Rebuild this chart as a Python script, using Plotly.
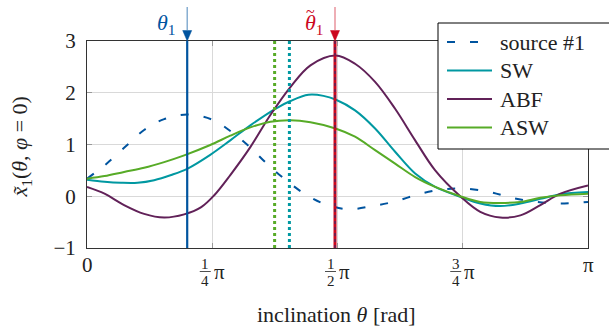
import numpy as np
import plotly.graph_objects as go

PI = np.pi

# ---------------- data (theta given in units of pi) ----------------
src_t = [0.0, 0.038, 0.078, 0.114, 0.154, 0.2, 0.25, 0.289, 0.325, 0.359, 0.396,
         0.434, 0.476, 0.522, 0.569, 0.615, 0.662, 0.709, 0.752, 0.805, 0.848,
         0.898, 0.945, 1.0]
src_v = [0.34, 0.62, 0.97, 1.28, 1.49, 1.58, 1.48, 1.24, 0.95, 0.63, 0.32,
         0.05, -0.155, -0.25, -0.19, -0.10, 0.04, 0.13, 0.15, 0.08, -0.03,
         -0.11, -0.14, -0.11]

sw_t = [0.0, 0.035, 0.068, 0.101, 0.134, 0.168, 0.2, 0.246, 0.286, 0.326,
        0.376, 0.406, 0.442, 0.472, 0.496, 0.535, 0.575, 0.615, 0.655, 0.695,
        0.745, 0.785, 0.825, 0.865, 0.905, 0.945, 1.0]
sw_v = [0.32, 0.28, 0.26, 0.26, 0.31, 0.41, 0.53, 0.80, 1.08, 1.37,
        1.69, 1.84, 1.96, 1.94, 1.87, 1.66, 1.31, 0.86, 0.44, 0.18,
        -0.01, -0.14, -0.19, -0.14, -0.05, 0.04, 0.08]

abf_t = [0.0, 0.035, 0.074, 0.114, 0.154, 0.194, 0.228, 0.254, 0.286, 0.326,
         0.366, 0.406, 0.446, 0.496, 0.535, 0.575, 0.615, 0.655, 0.695, 0.745,
         0.785, 0.825, 0.865, 0.905, 0.945, 1.0]
abf_v = [0.18, 0.05, -0.17, -0.34, -0.41, -0.35, -0.21, 0.02, 0.41, 0.95,
         1.57, 2.11, 2.53, 2.72, 2.56, 2.21, 1.69, 1.08, 0.50, 0.0,
         -0.30, -0.41, -0.37, -0.17, 0.05, 0.21]

asw_t = [0.0, 0.035, 0.074, 0.114, 0.154, 0.194, 0.246, 0.286, 0.326, 0.366,
         0.406, 0.446, 0.496, 0.535, 0.575, 0.615, 0.655, 0.695, 0.745, 0.785,
         0.825, 0.865, 0.905, 0.945, 1.0]
asw_v = [0.34, 0.39, 0.47, 0.55, 0.66, 0.79, 0.99, 1.17, 1.33, 1.44,
         1.47, 1.43, 1.31, 1.15, 0.89, 0.63, 0.37, 0.18, 0.0, -0.11,
         -0.13, -0.11, -0.03, 0.02, 0.05]

# direction markers (units of pi)
theta1 = 0.2
theta1_tilde = 0.495
abf_est = 0.495
sw_est = 0.404
asw_est = 0.3745

# ticks
xtick_frac = [0.0, 0.25, 0.5, 0.75, 1.0]
xtick_num = [None, 1, 1, 3, None]
xtick_den = [None, 4, 2, 4, None]
xtick_plain = ["0", None, None, None, "π"]
ytick_vals = [-1, 0, 1, 2, 3]

# ---------------- styles ----------------
BLUE = "#00549F"
TURQ = "#0098A1"
VIOLET = "#612158"
GREEN = "#57AB27"
RED = "#CC071E"
FONT = "Liberation Serif, Times New Roman, serif"
SRC_DASH = "8px,15px"

PLOT_L, PLOT_T = 87, 41
PLOT_W = 501
PLOT_H = 207
px = PI / PLOT_W          # one pixel in x data units


def pxx(xp):   # absolute pixel x -> paper x
    return (xp - PLOT_L) / PLOT_W


def pyy(yp):   # absolute pixel y -> paper y
    return (PLOT_T + PLOT_H - yp) / PLOT_H


fig = go.Figure()

series = [
    (src_t, src_v, "source #1", BLUE, SRC_DASH),
    (sw_t, sw_v, "SW", TURQ, "solid"),
    (abf_t, abf_v, "ABF", VIOLET, "solid"),
    (asw_t, asw_v, "ASW", GREEN, "solid"),
]
for t, v, name, color, dash in series:
    fig.add_trace(go.Scatter(
        x=np.array(t) * PI, y=v, mode="lines", name=name, showlegend=False,
        line=dict(color=color, width=2, dash=dash, shape="spline", smoothing=1.0),
        hoverinfo="skip"))

shapes = []


def vline(xv, color, width, dash="solid"):
    shapes.append(dict(type="line", xref="x", yref="y", x0=xv * PI, x1=xv * PI,
                       y0=-1, y1=3, line=dict(color=color, width=width, dash=dash)))


vline(asw_est, GREEN, 3, "3px,3px")
vline(sw_est, TURQ, 3, "3px,3px")
vline(theta1, BLUE, 2.2)
vline(theta1_tilde, RED, 3)
vline(abf_est, VIOLET, 1.6, "3px,3px")

annotations = []

# x tick labels (stacked fractions)
for f, num, den, plain in zip(xtick_frac, xtick_num, xtick_den, xtick_plain):
    if plain is not None:
        annotations.append(dict(x=f * PI, xref="x", y=pyy(265), yref="paper",
                                text=plain, showarrow=False, xanchor="center",
                                yanchor="middle", font=dict(size=21)))
    else:
        annotations.append(dict(x=f * PI, xref="x", xshift=-7, y=pyy(263.5),
                                yref="paper", text=str(num), showarrow=False,
                                xanchor="center", yanchor="middle", font=dict(size=15)))
        annotations.append(dict(x=f * PI, xref="x", xshift=-7, y=pyy(281),
                                yref="paper", text=str(den), showarrow=False,
                                xanchor="center", yanchor="middle", font=dict(size=15)))
        annotations.append(dict(x=f * PI, xref="x", xshift=7, y=pyy(272),
                                yref="paper", text="π", showarrow=False,
                                xanchor="center", yanchor="middle", font=dict(size=21)))
        shapes.append(dict(type="line", xref="x", yref="paper",
                           x0=f * PI - 12.5 * px, x1=f * PI - 1.5 * px,
                           y0=pyy(271.5), y1=pyy(271.5),
                           line=dict(color="#222", width=0.8)))

# axis titles
annotations.append(dict(x=pxx(336.7), xref="paper", y=pyy(314), yref="paper",
                        text="inclination <i>θ</i> [rad]", showarrow=False,
                        xanchor="center", yanchor="middle", font=dict(size=22)))
annotations.append(dict(x=pxx(21), xref="paper", y=0.49, yref="paper",
                        text="<i>x\u0303</i><sub>1</sub>(<i>θ</i>, <i>φ</i> = 0)",
                        showarrow=False, textangle=-90, xanchor="center",
                        yanchor="middle", font=dict(size=22)))

# arrows + labels above plot
arrow_specs = [
    (theta1, BLUE, "rgba(0,84,159,0.55)", False),
    (theta1_tilde, RED, "rgba(204,7,30,0.5)", True),
]
for xv, color, light, tilde in arrow_specs:
    shapes.append(dict(type="line", xref="x", yref="paper", x0=xv * PI, x1=xv * PI,
                       y0=pyy(30), y1=pyy(7), line=dict(color=light, width=1.3)))
    xc = xv * PI
    head = "M {:.5f},{:.5f} L {:.5f},{:.5f} L {:.5f},{:.5f} Z".format(
        xc - 4.5 * px, pyy(30.5), xc + 4.5 * px, pyy(30.5), xc, 1.0)
    shapes.append(dict(type="path", xref="x", yref="paper", path=head,
                       fillcolor=color, line=dict(color=color, width=0.5)))
    annotations.append(dict(x=xc, xref="x", xshift=-21, y=pyy(24),
                            yref="paper", text="<i>θ</i><sub>1</sub>", showarrow=False,
                            xanchor="center", yanchor="middle",
                            font=dict(size=22, color=color)))
    if tilde:
        annotations.append(dict(x=xc, xref="x", xshift=-25, y=pyy(11),
                                yref="paper", text="~", showarrow=False,
                                xanchor="center", yanchor="middle",
                                font=dict(size=16, color=color)))

# legend box (drawn manually to match the reference layout)
shapes.append(dict(type="rect", xref="paper", yref="paper",
                   x0=pxx(438), x1=pxx(615), y0=pyy(149), y1=pyy(23),
                   fillcolor="white", line=dict(color="black", width=1)))
for i, (t, v, name, color, dash) in enumerate(series):
    yrow = 42 + i * 28.5
    shapes.append(dict(type="line", xref="paper", yref="paper",
                       x0=pxx(447), x1=pxx(492), y0=pyy(yrow), y1=pyy(yrow),
                       line=dict(color=color, width=2, dash=dash)))
    annotations.append(dict(x=pxx(498), xref="paper", y=pyy(yrow), yref="paper",
                            text=name, showarrow=False, xanchor="left",
                            yanchor="middle", font=dict(size=22)))

fig.update_layout(
    width=609, height=329,
    margin=dict(l=PLOT_L, r=609 - PLOT_L - PLOT_W, t=PLOT_T,
                b=329 - PLOT_T - PLOT_H, autoexpand=False),
    paper_bgcolor="white", plot_bgcolor="white",
    font=dict(family=FONT, size=21, color="#222"),
    showlegend=False,
    xaxis=dict(range=[0, PI], tickvals=[f * PI for f in xtick_frac], showticklabels=False,
               ticks="inside", ticklen=5, tickcolor="#999", showgrid=True,
               gridcolor="#d9d9d9", gridwidth=1, showline=True, linecolor="#333",
               linewidth=1, mirror="ticks", zeroline=False),
    yaxis=dict(range=[-1, 3], tickvals=ytick_vals, ticks="inside", ticklen=5,
               tickcolor="#999", showgrid=True, gridcolor="#d9d9d9", gridwidth=1,
               showline=True, linecolor="#333", linewidth=1, mirror="ticks",
               zeroline=False, ticklabelstandoff=6, tickfont=dict(size=21)),
    shapes=shapes,
    annotations=annotations,
)

fig.write_html("out.html", config={"displayModeBar": False},
               post_script="document.body.style.margin='0px';")
